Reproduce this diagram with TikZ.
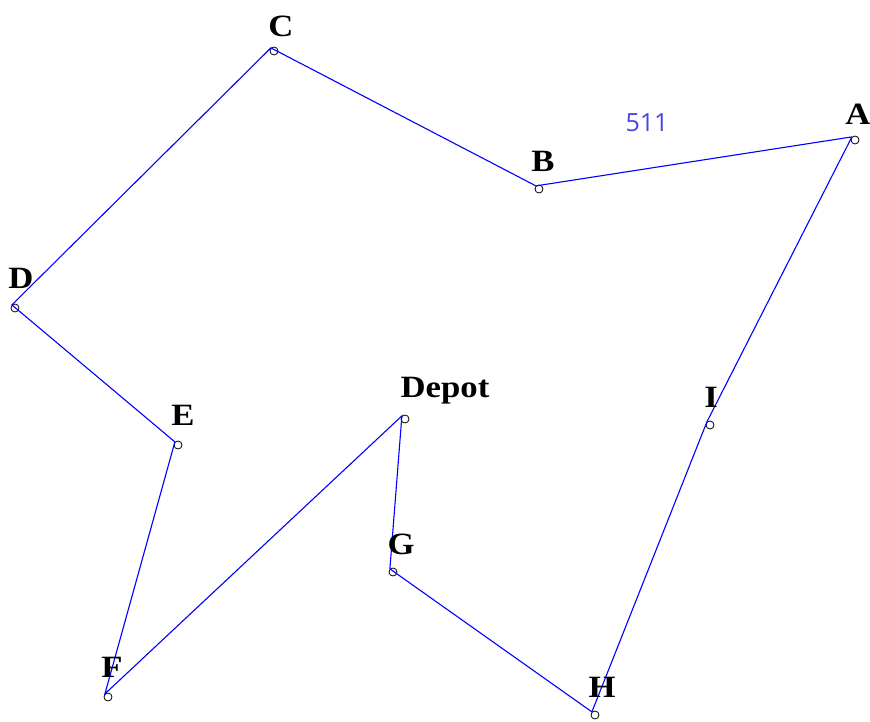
\documentclass[tikz,border=0pt]{standalone}
\usepackage{fontspec}
\setmainfont{Liberation Serif}
\newfontfamily\numfont{Open Sans}
\usetikzlibrary{positioning}

\begin{document}
\begin{tikzpicture}[x=1pt,y=-1pt,
  pt/.style={draw,circle,fill=white,minimum size=8pt,inner sep=0pt,line width=0.8pt},
  lbl/.style={font=\fontsize{31}{31}\selectfont\bfseries,inner sep=0pt,xscale=1.12,transform shape},
  edge/.style={blue,line width=1.1pt}]
\useasboundingbox (0,0) rectangle (870,722);
% route points
\node[pt](a) at(855,140){};
\node[pt](b) at(539,189){};
\node[pt](c) at(274,51){};
\node[pt](d) at(15,308){};
\node[pt](e) at(178,445){};
\node[pt](f) at(108,697){};
\node[pt](dep) at(405,419){};
\node[pt](g) at(393,572){};
\node[pt](h) at(595,715){};
\node[pt](i) at(710,425){};
% tour
\draw[edge](a.north west)--(b.north west)--(c.north west)--(d.north west)--(e.north west)--(f.north west)
  --(dep.north west)--(g.north west)--(h.north west)--(i.north west)--(a.north west);
% labels
\node[lbl](la) at(858,114){A};
\node[lbl](lb) at(543,161){B};
\node[lbl](lc) at(281,26){C};
\node[lbl](ld) at(21,278){D};
\node[lbl](le) at(183,415){E};
\node[lbl](lf) at(112,667){F};
\node[lbl](ldep) at(445,391){Depot};
\node[lbl](lg) at(401,544){G};
\node[lbl](lh) at(602,687){H};
\node[lbl](li) at(711,397){I};
\node[font=\numfont\fontsize{25}{25}\selectfont,text={rgb,255:red,70;green,70;blue,220},inner sep=0pt](cost) at(647,123){511};
\end{tikzpicture}
\end{document}
